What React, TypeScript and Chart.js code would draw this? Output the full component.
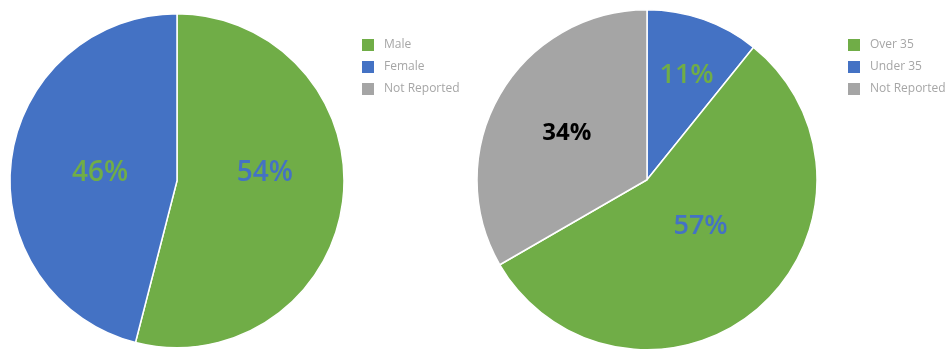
import React, { useEffect, useRef } from 'react';
import { Chart, registerables } from 'chart.js';

Chart.register(...registerables);

// ---- data ----
const genderLabels = ['Male', 'Female', 'Not Reported'];
const genderValues = [54, 46, 0];
const genderColors = ['#70AD47', '#4472C4', '#A5A5A5'];
const genderLabelColors = ['#4472C4', '#70AD47', '#000000'];
const genderLegendOrder = ['Male', 'Female', 'Not Reported'];

const ageLabels = ['Under 35', 'Over 35', 'Not Reported'];
const ageValues = [11, 57, 34];
const ageColors = ['#4472C4', '#70AD47', '#A5A5A5'];
const ageLabelColors = ['#70AD47', '#4472C4', '#000000'];
const ageLegendOrder = ['Over 35', 'Under 35', 'Not Reported'];

const FONT = "'Open Sans', 'DejaVu Sans', sans-serif";
const LEGEND_FONT_SIZE = 12;
const LEGEND_PAD = 10;
const SWATCH_W = 16;
const W = 949; // visible page area
const CW = 990; // canvas width (wider than the view so the legend box fits)
const H = 351;

function swatch(color: string) {
  const c = document.createElement('canvas');
  c.width = SWATCH_W;
  c.height = 12;
  const g = c.getContext('2d')!;
  g.fillStyle = color;
  g.fillRect(0, 0, 12, 12);
  return c;
}

function legendWidth(labels: string[]) {
  const c = document.createElement('canvas');
  const g = c.getContext('2d')!;
  g.font = `${LEGEND_FONT_SIZE}px ${FONT}`;
  const maxText = Math.max(...labels.map((t) => g.measureText(t).width));
  return LEGEND_PAD + SWATCH_W + LEGEND_FONT_SIZE / 2 + maxText + 10;
}

const sliceLabelPlugin = {
  id: 'sliceLabels',
  afterDatasetsDraw(chart: any, _args: any, opts: any) {
    const meta = chart.getDatasetMeta(0);
    const ds = chart.data.datasets[0];
    const ctx = chart.ctx;
    meta.data.forEach((arc: any, i: number) => {
      const v = ds.data[i];
      if (!v) return;
      const p = opts.place[i];
      const { x, y, startAngle, endAngle, outerRadius } = arc.getProps(
        ['x', 'y', 'startAngle', 'endAngle', 'outerRadius'],
        true
      );
      const a = (startAngle + endAngle) / 2 + (p.turn * Math.PI) / 180;
      const r = outerRadius * p.frac;
      const f = opts.fonts[i];
      ctx.save();
      ctx.font = `${f.weight} ${f.size}px ${FONT}`;
      ctx.fillStyle = opts.colors[i];
      ctx.textAlign = 'center';
      ctx.textBaseline = 'alphabetic';
      ctx.fillText(`${v}%`, x + Math.cos(a) * r, y + Math.sin(a) * r + f.size * 0.357);
      ctx.restore();
    });
  },
};

function makeConfig(p: any): any {
  const lw = legendWidth(p.labels);
  const padRight = Math.max(0, CW - (p.legendLeft - LEGEND_PAD) - lw);
  return {
    type: 'pie',
    data: {
      labels: p.labels,
      datasets: [
        {
          data: p.values,
          backgroundColor: p.colors,
          borderColor: '#FFFFFF',
          borderWidth: 1.5,
        },
      ],
    },
    plugins: [sliceLabelPlugin],
    options: {
      responsive: false,
      animation: false,
      devicePixelRatio: 1,
      events: [],
      layout: {
        padding: {
          left: 2 * p.cx - (p.legendLeft - LEGEND_PAD),
          right: padRight,
          top: p.top,
          bottom: p.bottom,
        },
      },
      plugins: {
        tooltip: { enabled: false },
        legend: {
          display: true,
          position: 'right',
          align: 'start',
          title: {
            display: true,
            text: '',
            padding: { top: p.legendTop, bottom: 0 },
            font: { size: 10, lineHeight: 1 },
          },
          labels: {
            usePointStyle: true,
            pointStyleWidth: SWATCH_W,
            boxHeight: 12,
            padding: LEGEND_PAD,
            color: '#A6A6A6',
            font: { family: FONT, size: LEGEND_FONT_SIZE },
            generateLabels: (chart: any) => {
              const labels = chart.data.labels as string[];
              const colors = chart.data.datasets[0].backgroundColor as string[];
              return p.order.map((name: string) => {
                const i = labels.indexOf(name);
                return {
                  text: name,
                  fillStyle: colors[i],
                  strokeStyle: colors[i],
                  lineWidth: 0,
                  pointStyle: swatch(colors[i]),
                  hidden: false,
                  index: i,
                  fontColor: '#A6A6A6',
                };
              });
            },
          },
        },
        sliceLabels: {
          colors: p.labelColors,
          place: p.place,
          fonts: p.fonts,
        },
      },
    },
  };
}

function PieCanvas({ params }: { params: any }) {
  const ref = useRef<HTMLCanvasElement>(null);
  useEffect(() => {
    const chart = new Chart(ref.current!, makeConfig(params));
    return () => chart.destroy();
  }, []);
  return (
    <canvas
      ref={ref}
      width={CW}
      height={H}
      style={{ position: 'absolute', left: 0, top: 0, width: CW, height: H }}
    />
  );
}

const genderParams = {
  labels: genderLabels,
  values: genderValues,
  colors: genderColors,
  labelColors: genderLabelColors,
  order: genderLegendOrder,
  cx: 177,
  legendLeft: 362,
  top: 13,
  bottom: 2.5,
  legendTop: 6,
  place: [
    { frac: 0.53, turn: -13.7 },
    { frac: 0.465, turn: 0.2 },
    { frac: 0.5, turn: 0 },
  ],
  fonts: [
    { weight: 600, size: 28 },
    { weight: 600, size: 28 },
    { weight: 600, size: 28 },
  ],
};

const ageParams = {
  labels: ageLabels,
  values: ageValues,
  colors: ageColors,
  labelColors: ageLabelColors,
  order: ageLegendOrder,
  cx: 647,
  legendLeft: 848,
  top: 9,
  bottom: 0.5,
  legendTop: 10,
  place: [
    { frac: 0.67, turn: 0.9 },
    { frac: 0.41, turn: -9.6 },
    { frac: 0.55, turn: 1 },
  ],
  fonts: [
    { weight: 600, size: 27 },
    { weight: 600, size: 27 },
    { weight: 700, size: 24 },
  ],
};

export default function App() {
  return (
    <div
      style={{
        position: 'absolute',
        left: 0,
        top: 0,
        width: W,
        height: H,
        background: '#FFFFFF',
        overflow: 'hidden',
      }}
    >
      <PieCanvas params={genderParams} />
      <PieCanvas params={ageParams} />
    </div>
  );
}
